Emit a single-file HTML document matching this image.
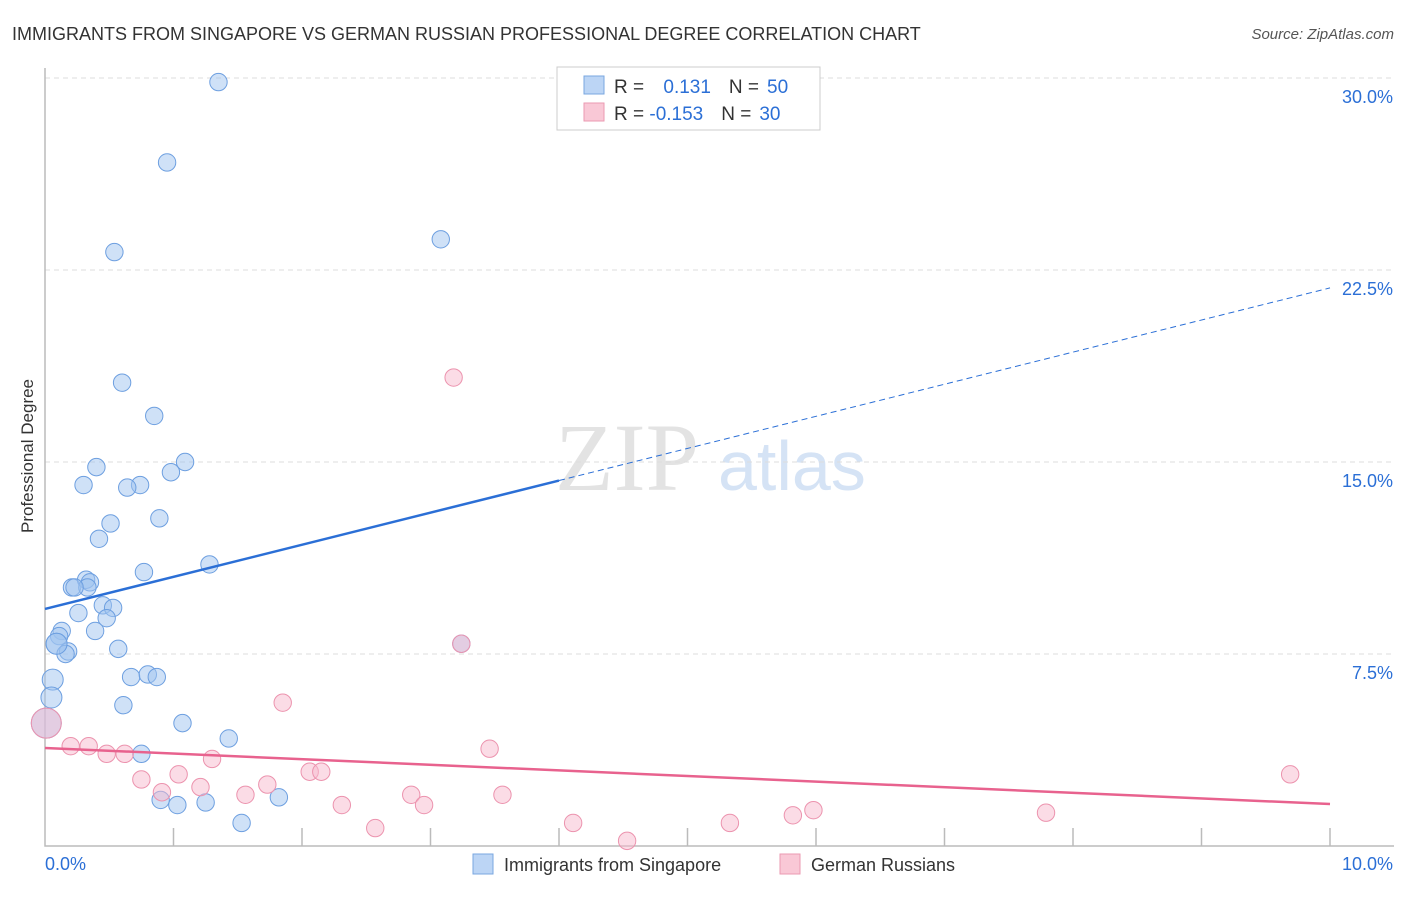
<!DOCTYPE html>
<html><head><meta charset="utf-8"><style>
body{margin:0;background:#fff;font-family:"Liberation Sans",sans-serif;}
</style></head><body>
<svg id="c" width="1406" height="892" xmlns="http://www.w3.org/2000/svg" style="font-family:'Liberation Sans',sans-serif">
<text x="12" y="40" font-size="18" fill="#333">IMMIGRANTS FROM SINGAPORE VS GERMAN RUSSIAN PROFESSIONAL DEGREE CORRELATION CHART</text>
<text x="1394" y="39" font-size="15" fill="#555" text-anchor="end" font-style="italic">Source: ZipAtlas.com</text>
<text x="33" y="456" font-size="17" fill="#333" text-anchor="middle" transform="rotate(-90 33 456)">Professional Degree</text>
<text x="555" y="490" font-size="96" fill="#e3e3e3" font-family="Liberation Serif">ZIP</text>
<text x="718" y="490" font-size="70" fill="#d5e3f5">atlas</text>
<g id="grid"></g><g id="axes"></g><g id="pts"></g><g id="trend"></g>
<g>
<rect x="557" y="67" width="263" height="63" fill="#fff" stroke="#ccc"/>
<rect x="584" y="76" width="20" height="18" fill="#bcd5f5" stroke="#7aa7e0"/>
<rect x="584" y="103" width="20" height="18" fill="#f9c8d6" stroke="#eb9ab2"/>
<text x="614" y="93" font-size="19" fill="#333">R = <tspan fill="#2b6fd6" dx="14">0.131</tspan><tspan fill="#333" dx="18">N =</tspan><tspan fill="#2b6fd6" dx="8">50</tspan></text>
<text x="614" y="120" font-size="19" fill="#333">R = <tspan fill="#2b6fd6">-0.153</tspan><tspan fill="#333" dx="18">N =</tspan><tspan fill="#2b6fd6" dx="8">30</tspan></text>
</g>
<g>
<rect x="473" y="854" width="20" height="20" fill="#bcd5f5" stroke="#7aa7e0"/>
<text x="504" y="871" font-size="18" fill="#333">Immigrants from Singapore</text>
<rect x="780" y="854" width="20" height="20" fill="#f9c8d6" stroke="#eb9ab2"/>
<text x="811" y="871" font-size="18" fill="#333">German Russians</text>
</g>
</svg>
<script>
const yTicks=[7.5,15,22.5,30];
const yTickLabels=["7.5%","15.0%","22.5%","30.0%"];
const xTicks=[0,1,2,3,4,5,6,7,8,9,10];
const blueX=[1.35,0.95,0.54,3.08,0.60,0.85,0.40,1.09,0.30,0.74,0.64,0.98,0.51,0.89,0.42,0.77,1.28,0.21,0.32,0.35,0.33,0.23,0.45,0.53,0.26,0.48,0.13,0.11,0.39,0.09,0.18,0.16,0.57,0.67,0.80,0.87,0.06,0.05,0.61,1.07,0.01,1.43,0.75,0.90,1.03,1.25,1.82,1.53,3.24,0.09];
const blueY=[29.84,26.7,23.2,23.7,18.1,16.8,14.8,15.0,14.1,14.1,14.0,14.6,12.6,12.8,12.0,10.7,11.0,10.1,10.4,10.3,10.1,10.1,9.4,9.3,9.1,8.9,8.4,8.2,8.4,7.9,7.6,7.5,7.7,6.6,6.7,6.6,6.5,5.8,5.5,4.8,4.8,4.2,3.6,1.8,1.6,1.7,1.9,0.9,7.9,7.9];
const pinkX=[0.01,0.20,0.34,0.48,0.62,0.75,0.91,1.04,1.21,1.30,1.56,1.73,1.85,2.06,2.15,2.31,2.57,2.85,2.95,3.18,3.24,3.46,3.56,4.11,4.53,5.33,5.82,5.98,7.79,9.69];
const pinkY=[4.8,3.9,3.9,3.6,3.6,2.6,2.1,2.8,2.3,3.4,2.0,2.4,5.6,2.9,2.9,1.6,0.7,2.0,1.6,18.3,7.9,3.8,2.0,0.9,0.2,0.9,1.2,1.4,1.3,2.8];
const blueTrend=[9.26,21.8];
const pinkTrend=[3.83,1.64];
const NS="http://www.w3.org/2000/svg";
const X=v=>45+v*128.5, Y=v=>846-v*25.6;
const R=v=>v<0.03?15:(v<0.1?10.5:8.7);
function mk(t,a,p){const e=document.createElementNS(NS,t);for(const k in a)e.setAttribute(k,a[k]);document.getElementById(p).appendChild(e);return e;}
yTicks.forEach((t,i)=>{
 let l=mk('line',{x1:45,x2:1394,y1:Y(t),y2:Y(t),stroke:'#ddd','stroke-dasharray':'5,4'},'grid');
 
 
 let tx=mk('text',{x:1393,y:Y(t)+25,'text-anchor':'end','font-size':18,fill:'#2b6fd6'},'grid');
 tx.textContent=yTickLabels[i];
 
 
});
let ax=mk('path',{d:'M45 68V846H1394',fill:'none',stroke:'#bbb','stroke-width':1.5},'axes');


xTicks.forEach(t=>{if(t>0){let l=mk('line',{x1:X(t),x2:X(t),y1:828,y2:846,stroke:'#bbb','stroke-width':1.5},'axes');
 
 }});
let x0=mk('text',{x:45,y:870,'font-size':18,fill:'#2b6fd6'},'axes');x0.textContent='0.0%';


let x1=mk('text',{x:1393,y:870,'font-size':18,fill:'#2b6fd6','text-anchor':'end'},'axes');x1.textContent='10.0%';


blueX.forEach((v,i)=>{let c=mk('circle',{cx:X(v),cy:Y(blueY[i]),r:R(v),fill:'rgba(160,195,240,0.5)',stroke:'#6d9fe0','stroke-width':1},'pts');
 
 });
pinkX.forEach((v,i)=>{let c=mk('circle',{cx:X(v),cy:Y(pinkY[i]),r:R(v),fill:'rgba(248,185,205,0.5)',stroke:'#ec93ae','stroke-width':1},'pts');
 
 });
const bAt=x=>blueTrend[0]+(blueTrend[1]-blueTrend[0])*x/10;
let b1=mk('line',{x1:X(0),y1:Y(bAt(0)),x2:X(4),y2:Y(bAt(4)),stroke:'#2b6fd6','stroke-width':2.5},'trend');


let b2=mk('line',{x1:X(4),y1:Y(bAt(4)),x2:X(10),y2:Y(bAt(10)),stroke:'#2b6fd6','stroke-width':1,'stroke-dasharray':'6,4'},'trend');


let p1=mk('line',{x1:X(0),y1:Y(pinkTrend[0]),x2:X(10),y2:Y(pinkTrend[1]),stroke:'#e8628e','stroke-width':2.5},'trend');


</script>
</body></html>
